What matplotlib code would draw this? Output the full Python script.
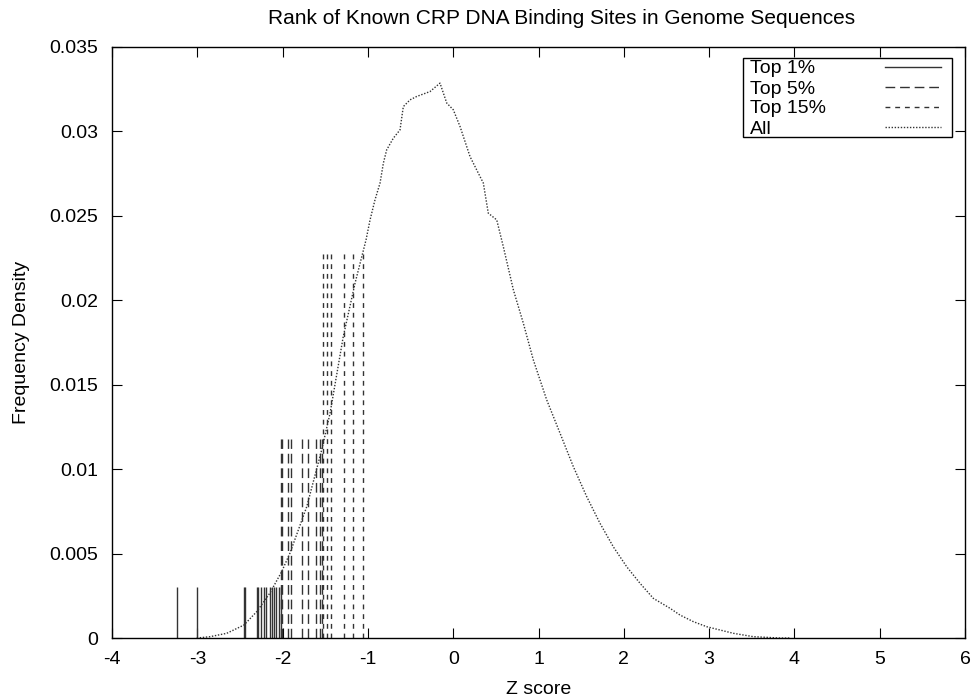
import matplotlib
matplotlib.use('Agg')
from matplotlib import pyplot as plt
from matplotlib.patches import Rectangle

plt.rcParams['font.family'] = ['Liberation Sans', 'DejaVu Sans']

# z scores of known sites, by rank group
top1 = [-3.234, -3.007, -2.452, -2.443, -2.304, -2.285, -2.255, -2.220, -2.189,
        -2.150, -2.123, -2.096, -2.073, -2.043, -2.023]
top5 = [-2.015, -2.003, -1.933, -1.905, -1.776, -1.707, -1.609, -1.562, -1.543]
top15 = [-1.523, -1.476, -1.437, -1.280, -1.178, -1.061]
h1, h5, h15 = 0.003, 0.0118, 0.023

# distribution of all scores
z_all = [-3.007, -2.851, -2.655, -2.453, -2.304, -2.148, -2.011, -1.913, -1.717,
         -1.542, -1.444, -1.289, -1.151, -1.022, -0.975, -0.917, -0.858, -0.819,
         -0.780, -0.702, -0.624, -0.585, -0.506, -0.428, -0.272, -0.155, -0.076,
         0.001, 0.080, 0.197, 0.294, 0.353, 0.411, 0.510, 0.587, 0.705, 0.822,
         0.939, 1.096, 1.252, 1.408, 1.565, 1.721, 1.877, 2.034, 2.190, 2.346,
         2.542, 2.659, 2.815, 2.972, 3.284, 3.518, 3.831, 3.95]
d_all = [0.0, 0.00008, 0.00028, 0.00077, 0.00156, 0.00267, 0.00393, 0.00504, 0.00778,
         0.01114, 0.01331, 0.01785, 0.02101, 0.02358, 0.02476, 0.02595, 0.02694, 0.02812,
         0.02891, 0.02960, 0.03009, 0.03147, 0.03187, 0.03207, 0.03236, 0.03286, 0.03168,
         0.03128, 0.03029, 0.02851, 0.02753, 0.02694, 0.02516, 0.02476, 0.02318, 0.02062, 0.01864,
         0.01647, 0.01410, 0.01213, 0.01015, 0.00837, 0.00679, 0.00540, 0.00422, 0.00324, 0.00235,
         0.00176, 0.00136, 0.00097, 0.00067, 0.00028, 0.00008, 0.0, 0.0]

xticks = [-4, -3, -2, -1, 0, 1, 2, 3, 4, 5, 6]
yticks = [0, 0.005, 0.01, 0.015, 0.02, 0.025, 0.03, 0.035]
ytick_labels = ['0', '0.005', '0.01', '0.015', '0.02', '0.025', '0.03', '0.035']
labels = ['Top 1%', 'Top 5%', 'Top 15%', 'All']

col = '#333333'
st1 = 'solid'
st5 = (0, (7, 3.5))
st15 = (0, (3.5, 3.5))
stall = (0, (1, 1.2))

fig = plt.figure(figsize=(9.74, 6.97), dpi=100)
ax = fig.add_axes([0.115, 0.0846, 0.8758, 0.848])

ax.vlines(top1, 0, h1, colors=col, linewidth=1.0, linestyles=st1)
ax.vlines(top5, 0, h5, colors=col, linewidth=1.0, linestyles=st5)
ax.vlines(top15, 0, h15, colors=col, linewidth=1.0, linestyles=st15)
ax.plot(z_all, d_all, color=col, linewidth=1.0, linestyle=stall)

ax.set_xlim(-4, 6)
ax.set_ylim(0, 0.035)
ax.set_xticks(xticks)
ax.set_xticklabels([str(t) for t in xticks])
ax.set_yticks(yticks)
ax.set_yticklabels(ytick_labels)
ax.tick_params(direction='in', length=7, top=True, right=True, labelsize=14)
ax.tick_params(axis='y', pad=10)
ax.tick_params(axis='x', pad=9)
for s in ax.spines.values():
    s.set_linewidth(1.0)

fig.text(0.577, 0.974, 'Rank of Known CRP DNA Binding Sites in Genome Sequences',
         fontsize=15, ha='center', va='center')
ax.set_xlabel('Z score', fontsize=14, labelpad=10)
ax.set_ylabel('Frequency Density', fontsize=14, labelpad=14)

# gnuplot style key: text left, sample right
ax.add_patch(Rectangle((0.7397, 0.8477), 0.2451, 0.1337, transform=ax.transAxes,
                       fill=False, edgecolor='black', linewidth=1.0))
rows = [0.9628, 0.9289, 0.8951, 0.8612]
for lab, yy, st in zip(labels, rows, [st1, st5, st15, stall]):
    ax.text(0.7479, yy, lab, transform=ax.transAxes, fontsize=14, ha='left', va='center')
    ax.plot([0.9062, 0.9719], [yy + 0.003, yy + 0.003], transform=ax.transAxes, color=col,
            linewidth=1.0, linestyle=st)

plt.savefig('out.png', dpi=100)
